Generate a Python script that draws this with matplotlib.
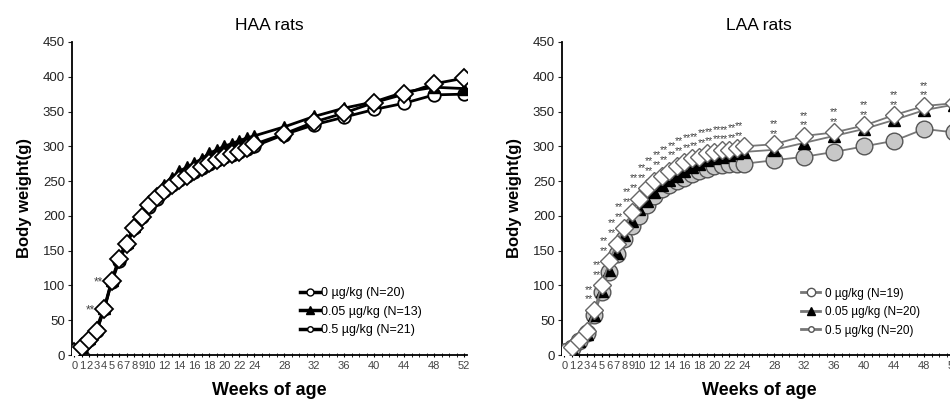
import matplotlib.pyplot as plt
from matplotlib.lines import Line2D

plt.rcParams['font.family'] = ['Liberation Sans', 'DejaVu Sans']

# weeks of age
weeks = list(range(0, 25)) + [28, 32, 36, 40, 44, 48, 52]
tick_weeks = list(range(0, 10)) + list(range(10, 25, 2)) + list(range(28, 53, 4))

# HAA rats body weight (g)
haa_0 = [5, 12, 22, 35, 66, 105, 135, 160, 182, 198, 213, 225, 236, 244, 251, 257, 263, 269, 275, 280, 284, 288, 292, 296, 300,
         317, 331, 342, 353, 362, 374, 375]
haa_005 = [4, 12, 24, 40, 68, 108, 140, 163, 185, 203, 220, 232, 245, 255, 264, 270, 276, 282, 290, 295, 300, 304, 308, 312, 315,
           328, 343, 355, 364, 378, 385, 383]
haa_05 = [5, 12, 22, 35, 66, 106, 138, 160, 182, 198, 215, 227, 236, 245, 252, 258, 265, 270, 276, 281, 285, 289, 292, 297, 303,
          318, 335, 348, 363, 375, 390, 398]
haa_labels = ['0 µg/kg (N=20)', '0.05 µg/kg (N=13)', '0.5 µg/kg (N=21)']
haa_star_weeks = [4, 5]

# LAA rats body weight (g)
laa_0 = [5, 10, 20, 32, 57, 90, 120, 145, 167, 186, 200, 215, 228, 238, 245, 250, 255, 260, 265, 268, 272, 273, 274, 275, 275,
         280, 285, 292, 300, 308, 325, 320]
laa_005 = [3, 8, 20, 30, 58, 92, 122, 147, 172, 192, 210, 222, 235, 245, 252, 258, 265, 270, 275, 280, 283, 285, 288, 290, 292,
           295, 305, 315, 325, 338, 352, 360]
laa_05 = [5, 12, 22, 35, 65, 100, 135, 160, 183, 205, 225, 240, 250, 258, 265, 272, 278, 283, 285, 290, 292, 295, 295, 297, 300,
          303, 315, 320, 330, 345, 358, 362]
laa_labels = ['0 µg/kg (N=19)', '0.05 µg/kg (N=20)', '0.5 µg/kg (N=20)']
laa_star_weeks = [w for w in weeks if w >= 4]

fig = plt.figure(figsize=(9.5, 4.03), dpi=100)
ax1 = fig.add_axes([72 / 950, 48 / 403, 394.5 / 950, 313 / 403])
ax2 = fig.add_axes([562 / 950, 48 / 403, 394.5 / 950, 313 / 403])


def style_axes(ax, title):
    ax.set_xlim(-0.3, 52.3)
    ax.set_ylim(0, 450)
    ax.spines['top'].set_visible(False)
    ax.spines['right'].set_visible(False)
    ax.spines['left'].set_linewidth(1.3)
    ax.spines['bottom'].set_linewidth(1.3)
    ax.set_yticks(range(0, 451, 50))
    ax.set_xticks(tick_weeks)
    ax.set_xticklabels([str(w) for w in tick_weeks], fontsize=8, color='#444444')
    ax.set_xticks(range(0, 53), minor=True)
    ax.tick_params(axis='y', labelsize=9.5, length=3, direction='out', colors='#222222', pad=2)
    ax.tick_params(axis='x', which='both', length=3, direction='inout', pad=3)
    ax.set_title(title, fontsize=12.5, pad=9)
    ax.set_xlabel('Weeks of age', fontsize=13, fontweight='bold', labelpad=8)
    ax.set_ylabel('Body weight(g)', fontsize=12, fontweight='bold', labelpad=8)


# HAA panel
style_axes(ax1, 'HAA rats')
ax1.plot(weeks, haa_0, color='black', lw=2, marker='o', ms=9, mfc='white', mec='black', mew=1.3, zorder=3)
ax1.plot(weeks, haa_005, color='black', lw=2, marker='^', ms=8.5, mfc='black', mec='black', zorder=4)
ax1.plot(weeks, haa_05, color='black', lw=2, marker='D', ms=9, mfc='white', mec='black', mew=1.3, zorder=5)
for w in haa_star_weeks:
    v = haa_05[weeks.index(w)]
    ax1.text(w - 1.2, v - 2, '**', ha='right', va='center', fontsize=8.5, color='#444444')

h1 = [Line2D([], [], color='black', lw=2.5, marker='o', ms=5, mfc='white', mec='black'),
      Line2D([], [], color='black', lw=2.5, marker='^', ms=6, mfc='black', mec='black'),
      Line2D([], [], color='black', lw=2.5, marker='o', ms=4, mfc='white', mec='black')]
ax1.legend(h1, haa_labels, loc='lower left', bbox_to_anchor=(0.55, 0.025), frameon=False, fontsize=9,
           handlelength=1.6, handletextpad=0.1, labelspacing=0.5)

# LAA panel
style_axes(ax2, 'LAA rats')
ax2.plot(weeks, laa_0, color='#777777', lw=1.3, marker='o', ms=12, mfc='#c8c8c8', mec='#555555', mew=1, zorder=3)
ax2.plot(weeks, laa_005, color='#777777', lw=1.3, marker='^', ms=8.5, mfc='black', mec='black', zorder=4)
ax2.plot(weeks, laa_05, color='#777777', lw=1.3, marker='D', ms=9, mfc='white', mec='#666666', mew=1, zorder=5)
for w in laa_star_weeks:
    v = laa_05[weeks.index(w)]
    dx = -0.7 if w <= 24 else 0
    ax2.text(w + dx, v + 15, '**', ha='center', va='center', fontsize=7.5, color='#444444')
    ax2.text(w + dx, v + 29, '**', ha='center', va='center', fontsize=7.5, color='#444444')

h2 = [Line2D([], [], color='#777777', lw=2, marker='o', ms=6, mfc='white', mec='#555555'),
      Line2D([], [], color='#777777', lw=2, marker='^', ms=6, mfc='black', mec='black'),
      Line2D([], [], color='#777777', lw=2, marker='o', ms=4, mfc='white', mec='#555555')]
ax2.legend(h2, laa_labels, loc='lower left', bbox_to_anchor=(0.58, 0.025), frameon=False, fontsize=8.5,
           handlelength=1.6, handletextpad=0.4, labelspacing=0.55)

fig.savefig('out.png', dpi=100)
